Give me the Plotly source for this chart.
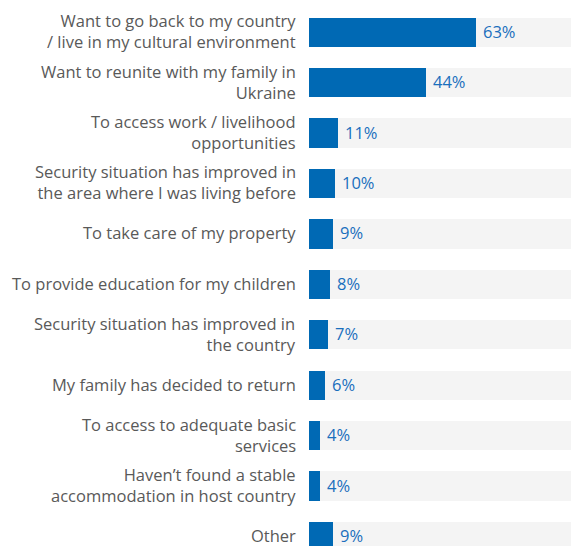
import plotly.graph_objects as go

reasons = [
    "Want to go back to my country<br>/ live in my cultural environment",
    "Want to reunite with my family in<br>Ukraine",
    "To access work / livelihood<br>opportunities",
    "Security situation has improved in<br>the area where I was living before",
    "To take care of my property",
    "To provide education for my children",
    "Security situation has improved in<br>the country",
    "My family has decided to return",
    "To access to adequate basic<br>services",
    "Haven\u2019t found a stable<br>accommodation in host country",
    "Other",
]
shares = [63, 44, 11, 10, 9, 8, 7, 6, 4, 4, 9]
full_scale = [100] * len(reasons)

positions = list(range(len(reasons)))
label_font = dict(family="Open Sans", size=16.5, color="#595959")
value_font = dict(family="Open Sans", size=16.5, color="#1a6fbd")

fig = go.Figure()
# light track behind each bar
fig.add_trace(go.Bar(
    y=positions, x=full_scale, orientation="h",
    marker=dict(color="#f4f4f4", line=dict(width=0)),
    width=0.58, hoverinfo="skip", showlegend=False,
))
fig.add_trace(go.Bar(
    y=positions, x=shares, orientation="h",
    marker=dict(color="#0069b4", line=dict(width=0)),
    width=0.58, showlegend=False,
))

# category labels, right-aligned against the bars
for p, name in zip(positions, reasons):
    fig.add_annotation(
        x=0, xref="paper", y=p, text=name, showarrow=False,
        xanchor="right", yanchor="middle", align="right",
        xshift=-12, yshift=1, borderpad=0,
        font=label_font,
    )

# value labels just past each bar end
for p, v in zip(positions, shares):
    fig.add_annotation(
        x=v, y=p, text=f"{v}%", showarrow=False,
        xanchor="left", yanchor="middle", xshift=6, yshift=1, borderpad=0,
        font=value_font,
    )

fig.update_layout(
    barmode="overlay",
    width=571, height=546,
    margin=dict(l=309, r=0, t=7, b=0),
    plot_bgcolor="white", paper_bgcolor="white",
    bargap=0,
)
fig.update_xaxes(range=[0, 98.9], visible=False, fixedrange=True)
fig.update_yaxes(
    range=[10.19, -0.5], showticklabels=False, ticks="",
    showgrid=False, zeroline=False, showline=False,
)

fig.write_html("out.html")
